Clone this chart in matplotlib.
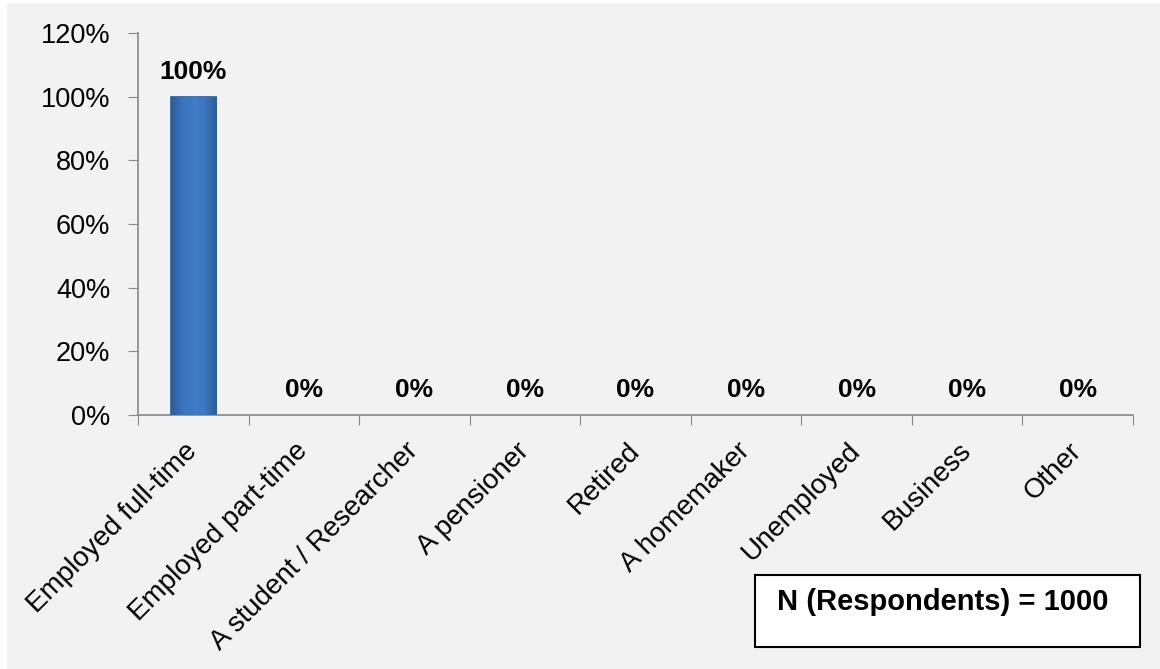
import numpy as np
import matplotlib.pyplot as plt
from matplotlib.patches import Rectangle
from matplotlib.colors import LinearSegmentedColormap

categories = ["Employed full-time", "Employed part-time", "A student / Researcher",
              "A pensioner", "Retired", "A homemaker", "Unemployed", "Business", "Other"]
values = [100, 0, 0, 0, 0, 0, 0, 0, 0]
yticks = [0, 20, 40, 60, 80, 100, 120]
note = "N (Respondents) = 1000"

plt.rcParams['font.family'] = ['Liberation Sans', 'DejaVu Sans']

fig = plt.figure(figsize=(11.6, 6.69), dpi=100, facecolor='white')
# gray chart area (white strip left and top in the original)
fig.patches.append(Rectangle((7 / 1160, 0), 1, 1 - 3 / 669, transform=fig.transFigure,
                             facecolor='#f2f2f2', edgecolor='none', zorder=-10))

ax = fig.add_axes([138 / 1160, 1 - 415 / 669, 995 / 1160, 382 / 669])
ax.set_facecolor('none')

x = range(len(categories))
bars = ax.bar(x, values, width=0.41, color='#3c74be', edgecolor='#2b5a98',
              linewidth=[1.2 if v > 0 else 0 for v in values], zorder=3)

# soft shading on the bars, like the bevelled bars of the original
shade = LinearSegmentedColormap.from_list(
    'shade', ['#2c5d9c', '#3a74bd', '#3f7bc6', '#3c76bf', '#2c5d9c'])
grad = np.linspace(0, 1, 64).reshape(1, -1)
for b in bars:
    if b.get_height() <= 0:
        continue
    im = ax.imshow(grad, cmap=shade, aspect='auto', zorder=3.5,
                   extent=[b.get_x(), b.get_x() + b.get_width(), 0, b.get_height()])
    im.set_clip_path(b)

for i, v in zip(x, values):
    ax.annotate(f"{v}%", (i, v), xytext=(0, 18), textcoords='offset points',
                ha='center', va='center', fontsize=19, fontweight='bold')

ax.set_xlim(-0.5, len(categories) - 0.5)
ax.set_ylim(0, 120)
ax.set_yticks(yticks)
ax.set_yticklabels([f"{t}%" for t in yticks], fontsize=19.5)

ax.set_xticks([i - 0.5 for i in range(len(categories) + 1)], minor=False)
ax.set_xticklabels([])
ax.set_xticks(list(x), minor=True)
ax.set_xticklabels(categories, minor=True, rotation=45, ha='right', rotation_mode='anchor',
                   va='center', fontsize=20)
ax.tick_params(axis='x', which='minor', length=0, pad=23)
ax.tick_params(axis='x', which='major', direction='out', length=7, color='#888888')
ax.tick_params(axis='y', direction='out', length=7, color='#888888', pad=13)

for s in ['top', 'right']:
    ax.spines[s].set_visible(False)
for s in ['left', 'bottom']:
    ax.spines[s].set_color('#888888')
    ax.spines[s].set_linewidth(1.2)

fig.patches.append(Rectangle((755 / 1160, 1 - 647 / 669), 385 / 1160, 72 / 669,
                             transform=fig.transFigure, facecolor='white',
                             edgecolor='black', linewidth=1.5, zorder=5))
fig.text(777 / 1160, 1 - 602 / 669, note, fontsize=21, fontweight='bold',
         va='center', ha='left', zorder=6)

fig.savefig('out.png', dpi=100, facecolor=fig.get_facecolor())
